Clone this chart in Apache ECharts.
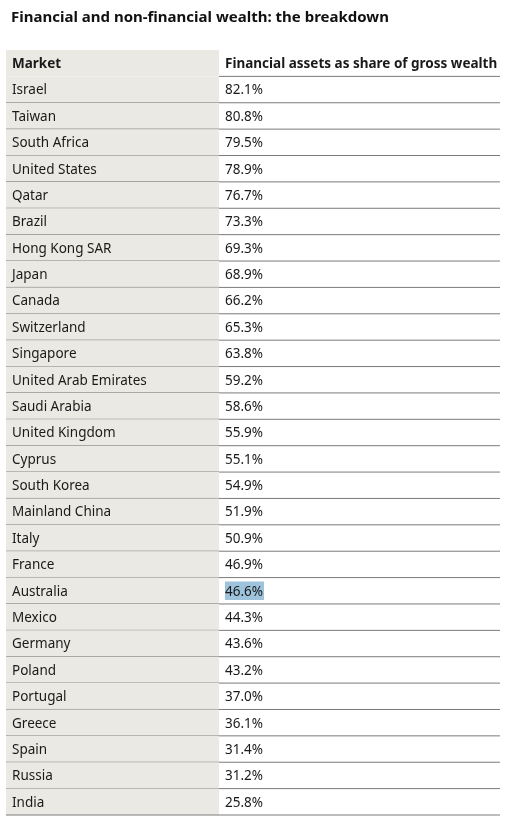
<!DOCTYPE html>
<html><head><meta charset="utf-8">
<script src="https://cdn.jsdelivr.net/npm/echarts@6/dist/echarts.min.js"></script>
<style>html,body{margin:0;padding:0;background:#fff}#c{width:514px;height:829px}</style>
</head><body><div id="c"></div>
<script>
const title = "Financial and non-financial wealth: the breakdown";
const headers = ["Market", "Financial assets as share of gross wealth"];
const markets = ["Israel","Taiwan","South Africa","United States","Qatar","Brazil","Hong Kong SAR","Japan","Canada","Switzerland","Singapore","United Arab Emirates","Saudi Arabia","United Kingdom","Cyprus","South Korea","Mainland China","Italy","France","Australia","Mexico","Germany","Poland","Portugal","Greece","Spain","Russia","India"];
const shares = [82.1,80.8,79.5,78.9,76.7,73.3,69.3,68.9,66.2,65.3,63.8,59.2,58.6,55.9,55.1,54.9,51.9,50.9,46.9,46.6,44.3,43.6,43.2,37.0,36.1,31.4,31.2,25.8];
const highlighted = "Australia";

const rows = ["__header"].concat(markets);
const data = rows.map((r, i) => [0, i]);
const FONT = "'Noto Sans', sans-serif";
const chart = echarts.init(document.getElementById('c'));
chart.setOption({
  animation: false,
  title: {text: title, left: 6, top: 5, textStyle: {fontFamily: FONT, fontSize: 15, fontWeight: 'bold', color: '#111'}},
  grid: {left: 6, right: 14, top: 50, bottom: 14},
  xAxis: {type: 'value', min: 0, max: 1, show: false},
  yAxis: {type: 'category', data: rows, inverse: true, show: false},
  series: [{
    type: 'custom', data: data,
    renderItem: function (params, api) {
      const i = api.value(1);
      const c = api.coord([0, i]);
      const size = api.size([0, 1]);
      const h = size[1];
      const x0 = api.coord([0, 0])[0], x1 = api.coord([1, 0])[0];
      const colX = 219;
      const top = c[1] - h / 2, bot = c[1] + h / 2;
      const children = [];
      children.push({type: 'rect', shape: {x: x0, y: top, width: colX - x0, height: h}, style: {fill: '#ebe9e3'}});
      const header = i === 0;
      const name = header ? headers[0] : markets[i - 1];
      const val = header ? headers[1] : shares[i - 1].toFixed(1) + '%';
      if (!header && name === highlighted) {
        children.push({type: 'rect', shape: {x: colX + 6, y: top + 4, width: 39, height: h - 8}, style: {fill: '#9ec3dc'}});
      }
      const fs = {fontFamily: FONT, fontSize: 13.5, fill: '#1a1a1a', fontWeight: header ? 'bold' : 'normal', verticalAlign: 'middle'};
      children.push({type: 'text', style: Object.assign({text: name, x: x0 + 6, y: c[1] + 1}, fs)});
      children.push({type: 'text', style: Object.assign({text: val, x: colX + 6, y: c[1] + 1}, fs)});
      children.push({type: 'line', shape: {x1: header ? colX : x0, y1: bot, x2: x1, y2: bot}, style: {stroke: '#7a7a7a', lineWidth: 1}});
      return {type: 'group', children: children};
    }
  }]
});
</script></body></html>
